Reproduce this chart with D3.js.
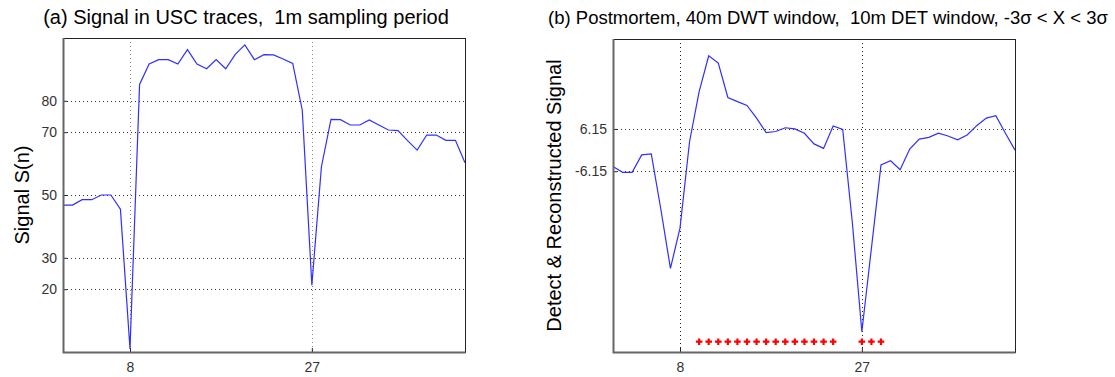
<!DOCTYPE html>
<html>
<head>
<meta charset="utf-8">
<script src="https://cdn.jsdelivr.net/npm/d3@7"></script>
<style>
    body { margin: 0; background: #fff; }
    svg { display: block; font-family: Arial, "Liberation Sans", sans-serif; }
</style>
</head>
<body>
<svg id="chart" width="1115" height="377"></svg>
<script>
// sample index n (1 minute per sample)
const samples = [1, 2, 3, 4, 5, 6, 7, 8, 9, 10, 11, 12, 13, 14, 15, 16, 17, 18, 19, 20, 21, 22,
    23, 24, 25, 26, 27, 28, 29, 30, 31, 32, 33, 34, 35, 36, 37, 38, 39, 40, 41, 42, 43];

// (a) raw signal S(n)
const signalValues = [46.8, 46.8, 48.5, 48.5, 50, 50, 45.5, 1, 85.2, 91.7, 93.1, 93.1, 91.7, 96.3,
    91.7, 90.2, 93.1, 90.2, 94.8, 97.8, 93.1, 94.7, 94.6, 93.3, 91.9, 77, 21.3, 59, 74.1, 74,
    72.3, 72.3, 73.9, 72.3, 70.7, 70.5, 67.3, 64.3, 69.1, 69.1, 67.4, 67.4, 60.3];

// (b) detect & reconstructed signal
const reconValues = [-4.8, -6.45, -6.45, -1.4, -1.1, -17.2, -34.4, -22.7, 2.5, 17, 27.4, 25.3, 15.3,
    14.1, 13.0, 9.3, 5.1, 5.4, 6.5, 6.15, 4.9, 1.8, 0.5, 7.0, 6.0, -20.9, -52.8, -28.5, -4.3, -3.1,
    -5.7, 0.3, 3.2, 3.7, 4.9, 4.1, 3.0, 4.4, 7.1, 9.3, 10.0, 4.9, 0];

// detected samples (red markers)
const detectX = [10, 11, 12, 13, 14, 15, 16, 17, 18, 19, 20, 21, 22, 23, 24, 27, 28, 29];
const detectLevel = -55.7;

const xTicks = [8, 27];
const yTicksA = [20, 30, 50, 70, 80];
const yTicksB = [-6.15, 6.15];

class Panel {
    constructor(svg, opts) {
        this.svg = svg;
        this.o = opts;
    }

    draw() {
        const o = this.o;
        const g = this.svg.append("g").attr("transform", `translate(${o.left}, ${o.top})`);
        const w = o.width, h = o.height;

        const x = d3.scaleLinear().domain([1, 43]).range([0, w]);
        const y = d3.scaleLinear().domain(o.yDomain).range([h, 0]);

        // grid
        g.append("g").selectAll("line").data(o.yTicks).join("line")
            .attr("x1", 0).attr("x2", w)
            .attr("y1", d => Math.round(y(d)) + 0.5).attr("y2", d => Math.round(y(d)) + 0.5)
            .attr("stroke", o.gridColor).attr("stroke-dasharray", "1,3");
        g.append("g").selectAll("line").data(xTicks).join("line")
            .attr("y1", 0).attr("y2", h)
            .attr("x1", d => Math.round(x(d)) + 0.5).attr("x2", d => Math.round(x(d)) + 0.5)
            .attr("stroke", o.xGridColor).attr("stroke-dasharray", "1,3");

        // axes (ticks pointing inside)
        const yAxis = g.append("g")
            .call(d3.axisLeft(y).tickValues(o.yTicks).tickSize(-4).tickPadding(6).tickFormat(d => String(d)));
        const xAxis = g.append("g").attr("transform", `translate(0, ${h})`)
            .call(d3.axisBottom(x).tickValues(xTicks).tickSize(-4).tickPadding(10));
        [yAxis, xAxis].forEach(a => {
            a.select(".domain").remove();
            a.selectAll("text").attr("font-size", 14).attr("fill", "#333")
                .attr("font-family", "Arial, 'Liberation Sans', sans-serif");
            a.selectAll("line").attr("stroke", "#222");
        });

        // data line
        const line = d3.line().x((d, i) => x(samples[i])).y(d => y(d));
        g.append("path").datum(o.values)
            .attr("d", line)
            .attr("fill", "none")
            .attr("stroke", "#2f2fff")
            .attr("stroke-width", 1.2);

        if (o.markers) {
            g.append("g").selectAll("path").data(o.markers).join("path")
                .attr("transform", d => `translate(${x(d)}, ${y(detectLevel)})`)
                .attr("d", d3.symbol(d3.symbolCross, 24))
                .attr("fill", "#ff0000");
        }

        // box
        g.append("rect").attr("x", 0.5).attr("y", 0.5).attr("width", w).attr("height", h)
            .attr("fill", "none").attr("stroke", "#222");
        g.append("path").attr("d", `M0.5,0V${h + 0.5}H${w + 0.5}`)
            .attr("fill", "none").attr("stroke", "#666").attr("stroke-width", 2);

        // title and y label
        this.svg.append("text")
            .attr("x", o.titleX).attr("y", 24)
            .attr("text-anchor", "middle").attr("font-size", o.titleSize).attr("fill", "#000")
            .style("white-space", "pre")
            .text(o.title);
        this.svg.append("text")
            .attr("transform", `translate(${o.labelX}, ${o.top + h / 2}) rotate(-90)`)
            .attr("text-anchor", "middle").attr("font-size", 20).attr("fill", "#000")
            .text(o.yLabel);
    }
}

const svg = d3.select("#chart");

new Panel(svg, {
    left: 63, top: 38, width: 402, height: 314,
    yDomain: [0, 100], yTicks: yTicksA, values: signalValues,
    gridColor: "#333", xGridColor: "#888",
    title: "(a) Signal in USC traces,  1m sampling period", titleX: 246, titleSize: 20,
    yLabel: "Signal S(n)", labelX: 29
}).draw();

new Panel(svg, {
    left: 613, top: 39, width: 402, height: 313,
    yDomain: [-58.7, 32.3], yTicks: yTicksB, values: reconValues, markers: detectX,
    gridColor: "#333", xGridColor: "#222",
    title: "(b) Postmortem, 40m DWT window,  10m DET window, -3\u03c3 < X < 3\u03c3", titleX: 828, titleSize: 18.5,
    yLabel: "Detect & Reconstructed Signal", labelX: 561
}).draw();
</script>
</body>
</html>
